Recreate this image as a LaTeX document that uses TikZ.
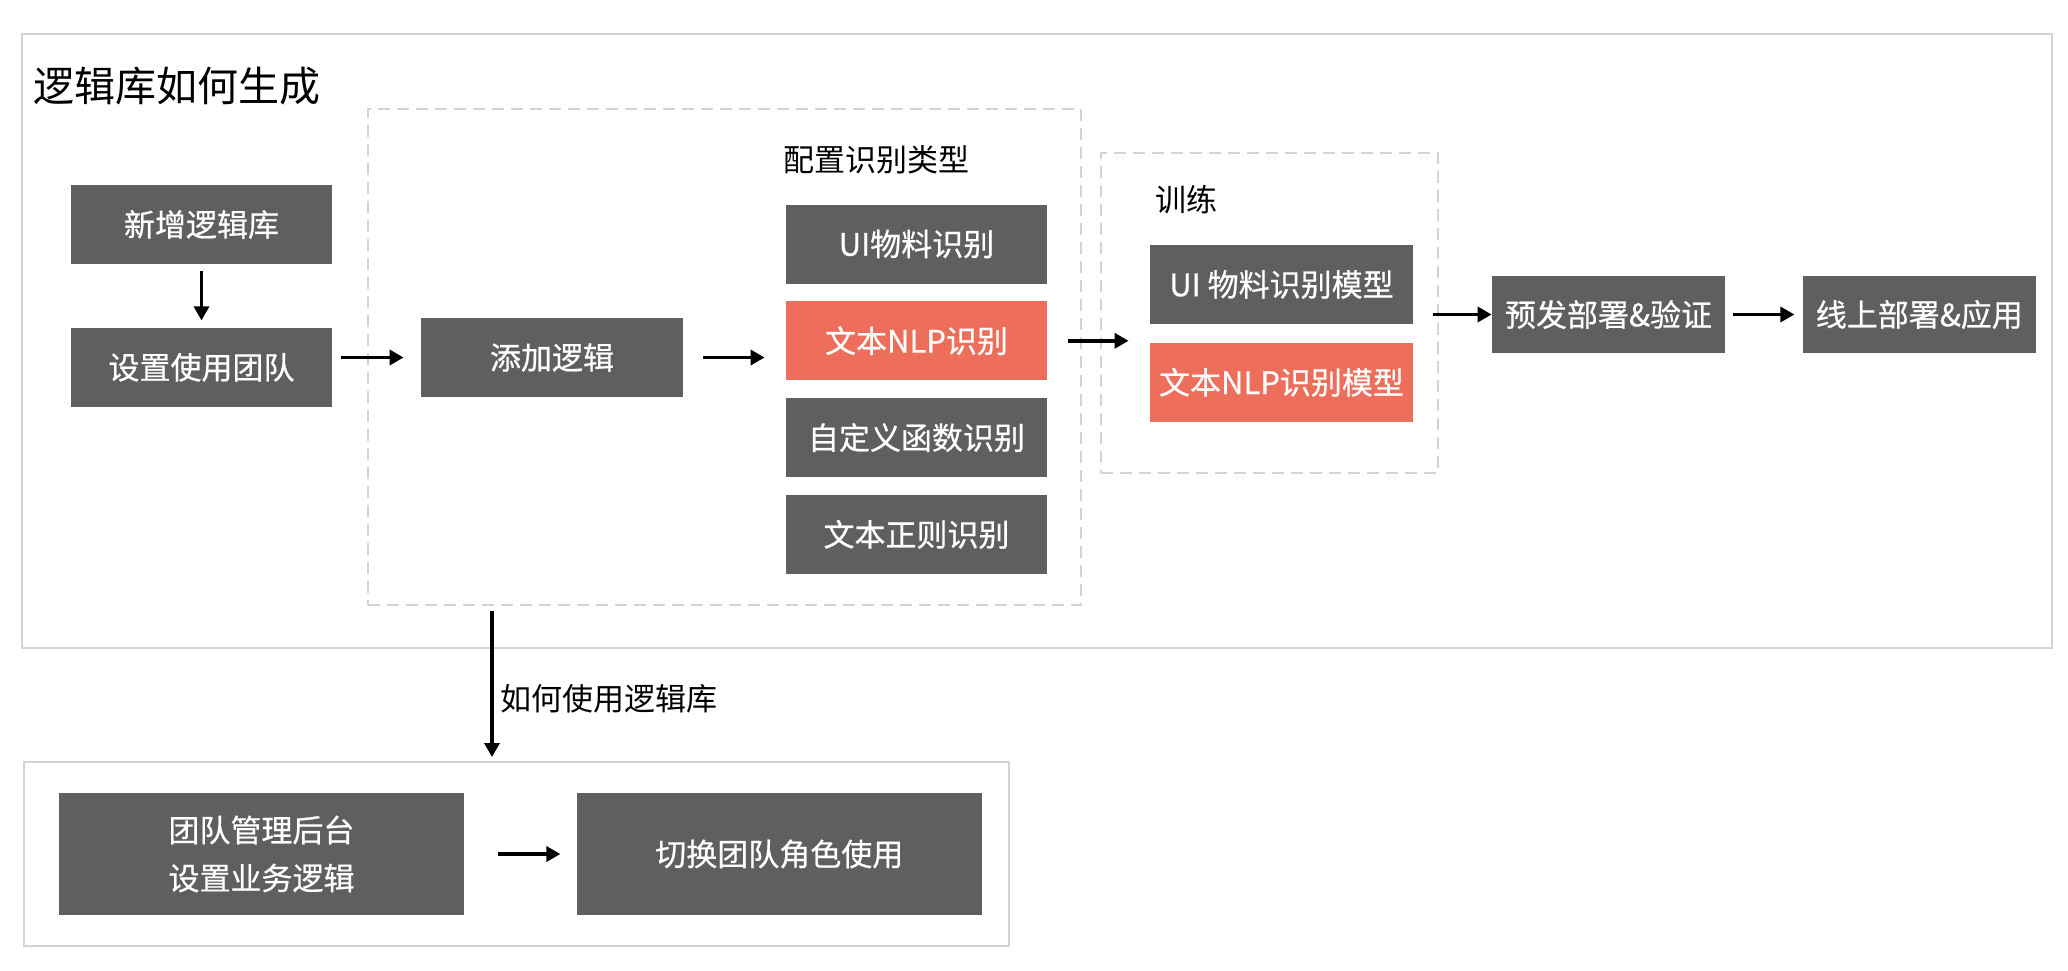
\documentclass[tikz,border=0pt]{standalone}
\usepackage{fontspec}
\usepackage{tikz}
\usetikzlibrary{
  arrows.meta,
  positioning
}
\newfontfamily\cjk{Noto Sans CJK SC}
\newfontfamily\cjkmed[FakeBold=0.6]{Noto Sans CJK SC}
\definecolor{BoxGray}{HTML}{5F5F5F}
\definecolor{BoxCoral}{HTML}{ED6E5A}
\definecolor{FrameGray}{HTML}{D4D4D4}
\tikzset{
  % Filled step box
  stepbox/.style={
    rectangle, fill=#1, text=white,
    minimum width=130.5pt, minimum height=39.5pt,
    inner sep=0pt, align=center,
    font=\cjkmed\fontsize{15.5}{24}\selectfont
  },
  stepbox/.default=BoxGray,
  % Solid group frame
  frame/.style={
    rectangle, draw=FrameGray, line width=1pt, inner sep=0pt
  },
  % Dashed group outline
  grp/.style={
    rectangle, draw=FrameGray, line width=0.75pt,
    dash pattern=on 6pt off 3.5pt, inner sep=0pt
  },
  % Plain label
  lbl/.style={inner sep=0pt, text=black, font=\cjk\fontsize{15.5}{18}\selectfont},
  % Arrow
  arr/.style={
    -{Triangle[length=7pt,width=7.5pt]},
    line width=1.7pt, color=black
  }
}
\begin{document}
\begin{tikzpicture}[x=0.5pt, y=-0.5pt]
  \useasboundingbox (0,0) rectangle (2068,970);

  % Outer frames
  \node[frame, minimum width=1015pt, minimum height=307pt] (gen) at (1037,341) {};
  \node[frame, minimum width=492.5pt, minimum height=92pt] (usebox) at (516.5,854) {};
  \node[lbl, anchor=west, font=\cjk\fontsize{20.5}{24}\selectfont] (gentitle) at (33,86) {逻辑库如何生成};

  % Dashed groups
  \node[grp, minimum width=356.5pt, minimum height=248pt] (dash1) at (724.5,357) {};
  \node[grp, minimum width=168.5pt, minimum height=160pt] (dash2) at (1269.5,313) {};
  \node[lbl, anchor=west] (typetitle) at (783,160) {配置识别类型};
  \node[lbl, anchor=west] (traintitle) at (1155,200) {训练};

  % Library setup
  \node[stepbox] (newlib) at (201.5,224.5) {新增逻辑库};
  \node[stepbox, below=31.5pt of newlib] (team) {设置使用团队};
  \node[stepbox, minimum width=131pt] (addlogic) at (552,357.5) {添加逻辑};

  % Recognition types
  \node[stepbox] (uirec) at (916.5,244) {UI物料识别};
  \node[stepbox=BoxCoral, below=8.5pt of uirec] (nlprec) {文本NLP识别};
  \node[stepbox, below=8.5pt of nlprec] (funcrec) {自定义函数识别};
  \node[stepbox, below=8.5pt of funcrec] (regexrec) {文本正则识别};

  % Training
  \node[stepbox, minimum width=131.5pt] (uimodel) at (1281.5,284.5) {UI 物料识别模型};
  \node[stepbox=BoxCoral, minimum width=131.5pt, below=9pt of uimodel] (nlpmodel) {文本NLP识别模型};

  % Deploy
  \node[stepbox, minimum width=116.5pt, minimum height=38.5pt] (pre) at (1608.5,314.5) {预发部署\&验证};
  \node[stepbox, minimum width=116.5pt, minimum height=38.5pt, right=38.5pt of pre] (online) {线上部署\&应用};

  % Usage
  \node[stepbox, minimum width=202.5pt, minimum height=61pt] (mgmt) at (261.5,854) {团队管理后台\\设置业务逻辑};
  \node[stepbox, minimum width=202.5pt, minimum height=61pt, right=56pt of mgmt] (switch) {切换团队角色使用};

  % Relations
  \draw[arr, shorten <=3.5pt, shorten >=3.5pt] (newlib) -- (team);
  \draw[arr, shorten <=4.5pt, shorten >=8.5pt] (team.east |- addlogic.west) -- (addlogic.west);
  \draw[arr, shorten <=10pt, shorten >=10.5pt] (addlogic.east) -- (addlogic.east -| nlprec.west);
  \draw[arr, shorten <=10.5pt, shorten >=10.5pt] (nlprec.east) -- (nlprec.east -| uimodel.west);
  \draw[arr, shorten <=-3pt] (pre.west -| dash2.east) -- (pre.west);
  \draw[arr, shorten <=4pt, shorten >=4pt] (pre) -- (online);
  \coordinate (usetop) at (492,605);
  \draw[arr, shorten <=3pt, shorten >=2pt] (usetop) -- (usetop |- usebox.north)
    node[lbl, pos=0.6, right, xshift=3.5pt] (uselabel) {如何使用逻辑库};
  \draw[arr, shorten <=17pt, shorten >=8pt] (mgmt) -- (switch);

\end{tikzpicture}
\end{document}
